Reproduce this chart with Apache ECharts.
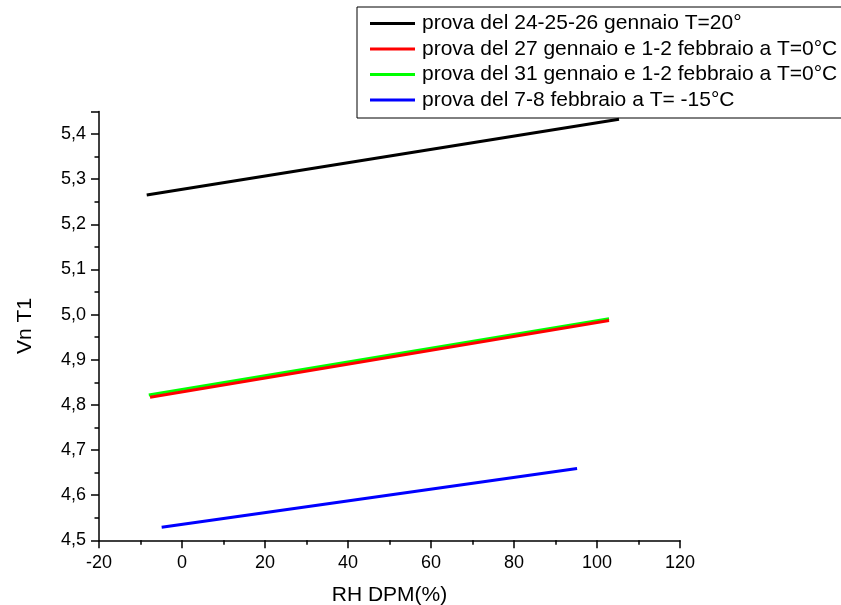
<!DOCTYPE html>
<html><head><meta charset="utf-8">
<script src="https://cdn.jsdelivr.net/npm/echarts@6/dist/echarts.min.js"></script>
<style>html,body{margin:0;padding:0;background:#fff}#c{width:841px;height:605px}</style>
</head><body><div id="c"></div>
<script>
const seriesNames = [
  'prova del 24-25-26 gennaio T=20°',
  'prova del 27 gennaio e 1-2 febbraio a T=0°C',
  'prova del 31 gennaio e 1-2 febbraio a T=0°C',
  'prova del 7-8 febbraio a T= -15°C'
];
const seriesColors = ['#000000', '#ff0000', '#00ff00', '#0000ff'];
const rhBlack = [-8.5, 105.3];
const vnBlack = [5.265, 5.433];
const rhRed = [-7.7, 102.9];
const vnRed = [4.817, 4.987];
const rhGreen = [-8.0, 102.9];
const vnGreen = [4.822, 4.991];
const rhBlue = [-4.9, 95.2];
const vnBlue = [4.529, 4.659];
const xTicks = [-20, 0, 20, 40, 60, 80, 100, 120];
const yTicks = ['4,5','4,6','4,7','4,8','4,9','5,0','5,1','5,2','5,3','5,4'];

const pairs = [[rhBlack, vnBlack], [rhRed, vnRed], [rhGreen, vnGreen], [rhBlue, vnBlue]];
const FONT = '"Liberation Sans", Arial, sans-serif';
const chart = echarts.init(document.getElementById('c'), null, {renderer: 'canvas'});
chart.setOption({
  animation: false,
  backgroundColor: '#fff',
  grid: {left: 99, right: 161, top: 111.5, bottom: 64.7, containLabel: false, outerBoundsMode: 'none'},
  legend: {
    left: 357, top: 7,
    orient: 'vertical',
    data: seriesNames,
    icon: 'rect',
    itemWidth: 45, itemHeight: 3,
    itemGap: 3.5,
    padding: [5.5, 14, 7, 13],
    borderColor: '#000', borderWidth: 1,
    textStyle: {fontFamily: FONT, fontSize: 21, color: '#000', lineHeight: 22, padding: [0,0,0,2]}
  },
  xAxis: {
    type: 'value', min: -20, max: 120, interval: 20,
    name: 'RH DPM(%)', nameLocation: 'middle', nameGap: 44,
    nameTextStyle: {fontFamily: FONT, fontSize: 21, color: '#000'},
    axisLine: {show: true, onZero: false, lineStyle: {color: '#000', width: 1.5}},
    axisTick: {show: true, inside: false, length: 8, lineStyle: {color: '#000', width: 1.5}},
    minorTick: {show: true, splitNumber: 2, length: 4.5, lineStyle: {color: '#000', width: 1.5}},
    splitLine: {show: false},
    axisLabel: {fontFamily: FONT, fontSize: 18, color: '#000', margin: 14,
      formatter: v => { const i = xTicks.indexOf(v); return i >= 0 ? String(xTicks[i]) : ''; }}
  },
  yAxis: {
    type: 'value', min: 4.5, max: 5.45, interval: 0.1,
    name: 'Vn T1', nameLocation: 'middle', nameGap: 63, nameRotate: 90,
    nameTextStyle: {fontFamily: FONT, fontSize: 21, color: '#000'},
    axisLine: {show: true, onZero: false, lineStyle: {color: '#000', width: 1.5}},
    axisTick: {show: true, inside: false, length: 8, lineStyle: {color: '#000', width: 1.5}},
    minorTick: {show: true, splitNumber: 2, length: 4.5, lineStyle: {color: '#000', width: 1.5}},
    splitLine: {show: false},
    axisLabel: {fontFamily: FONT, fontSize: 18, color: '#000', margin: 13,
      formatter: v => { const i = Math.round((v - 4.5) * 10); return (i >= 0 && i < yTicks.length) ? yTicks[i] : ''; }}
  },
  series: seriesNames.map((n, k) => ({
    name: n, type: 'line', symbol: 'none', showSymbol: false,
    color: seriesColors[k],
    lineStyle: {color: seriesColors[k], width: 3},
    data: pairs[k][0].map((x, j) => [x, pairs[k][1][j]]),
    z: k === 1 ? 3 : 2
  }))
});
</script></body></html>
